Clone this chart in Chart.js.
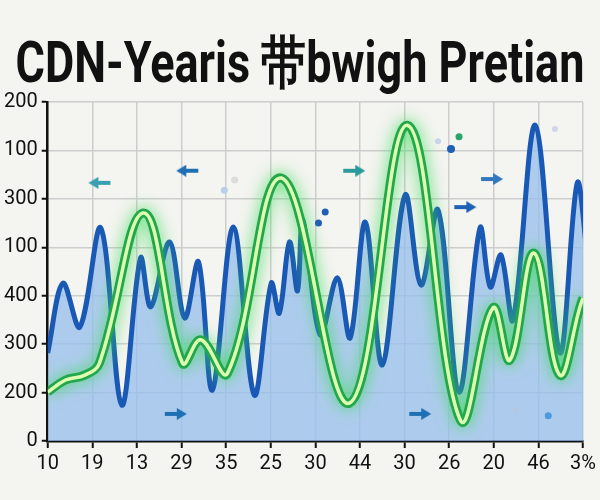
<!DOCTYPE html>
<html>
<head>
<meta charset="utf-8">
<script src="https://cdn.jsdelivr.net/npm/chart.js@4"></script>
<style>
  html, body { margin: 0; padding: 0; background: #f4f4f0; }
  #wrap { position: relative; width: 600px; height: 500px; }
  #titulo {
    position: absolute; left: 0; top: 25px; width: 600px; text-align: center;
    font-family: Roboto, sans-serif; font-weight: 700; font-size: 45px; color: #111;
    transform: scaleY(1.26); transform-origin: center top; white-space: nowrap; margin: 0;
  }
  canvas { position: absolute; left: 0; top: 0; }
</style>
</head>
<body>
<div id="wrap">
  <h1 id="titulo">CDN-Yearis 带bwigh Pretian</h1>
  <canvas id="grafico" width="600" height="500"></canvas>
</div>
<script>
const etiquetasX = ['10', '19', '13', '29', '35', '25', '30', '44', '30', '26', '20', '46', '3%'];
const etiquetasY = ['0', '200', '300', '400', '100', '300', '100', '200'];

// linea azul (x en posiciones de categoria, y en unidades de la rejilla)
const azulX = [0, 0.34, 0.72, 1.19, 1.66, 2.08, 2.31, 2.73, 3.07, 3.38, 3.69, 4.16, 4.63, 5.01, 5.19, 5.42, 5.6, 5.72, 6.11, 6.49, 6.78, 7.12, 7.5, 8.01, 8.37, 8.75, 9.22, 9.69, 9.92, 10.16, 10.43, 10.93, 11.48, 11.87, 12.1];
const azulY = [1.82, 3.26, 2.35, 4.40, 0.74, 3.78, 2.77, 4.11, 2.54, 3.70, 1.05, 4.42, 0.95, 3.26, 2.64, 4.11, 3.1, 4.56, 2.19, 3.37, 2.13, 4.52, 1.57, 5.08, 3.22, 4.77, 1.01, 4.40, 3.18, 3.84, 2.50, 6.52, 1.82, 5.33, 3.8];

// linea verde
const verdeX = [0, 0.4, 0.83, 1.16, 2.15, 3.02, 3.43, 4.03, 5.24, 6.76, 8.06, 9.25, 9.98, 10.36, 10.9, 11.48, 12.0, 12.12];
const verdeY = [1.01, 1.26, 1.36, 1.61, 4.71, 1.61, 2.09, 1.40, 5.43, 0.78, 6.52, 0.43, 2.75, 1.67, 3.88, 1.36, 2.95, 2.6];

// flechas y puntos sueltos
const flechasX = [1.16, 3.13, 6.87, 2.87, 9.36, 9.96, 8.35];
const flechasY = [5.33, 5.58, 5.58, 0.56, 4.83, 5.41, 0.56];
const flechasDir = ['izq', 'izq', 'der', 'der', 'der', 'der', 'der'];
const flechasColor = ['#3a9fb0', '#1f6fb5', '#2a9a9a', '#1f6fb5', '#1f62b5', '#3478c0', '#1f6fb5'];

const puntosX = [6.07, 6.22, 9.04, 9.22, 8.75, 3.96, 4.19, 11.37, 11.22, 10.5];
const puntosY = [4.50, 4.73, 6.03, 6.28, 6.19, 5.18, 5.39, 6.44, 0.52, 0.64];
const puntosColor = ['#1f5fb5', '#1f5fb5', '#1f5fb5', '#2aa56a', '#c8d4e8', '#b8cfe6', '#dcdcdc', '#d0d4e8', '#4d9ae0', '#b8c8dc'];
const puntosRadio = [3.5, 3.5, 4, 3.5, 3, 3.5, 3.5, 3, 3.5, 2.5];

function pares(xs, ys) {
    return xs.map((x, i) => ({ x: x, y: ys[i] }));
}

function crearFlecha(color) {
    const c = document.createElement('canvas');
    c.width = 24; c.height = 12;
    const g = c.getContext('2d');
    g.fillStyle = color;
    g.fillRect(1, 4, 14, 4);
    g.beginPath();
    g.moveTo(13, 0); g.lineTo(23, 6); g.lineTo(13, 12); g.closePath();
    g.fill();
    return c;
}

const brillo = {
    id: 'brillo',
    beforeDatasetDraw(chart, args) {
        const ds = chart.data.datasets[args.index];
        if (ds.brillo) {
            chart.ctx.save();
            chart.ctx.shadowColor = ds.brillo;
            chart.ctx.shadowBlur = 16;
        }
    },
    afterDatasetDraw(chart, args) {
        const ds = chart.data.datasets[args.index];
        if (ds.brillo) chart.ctx.restore();
    }
};

const ctx = document.getElementById('grafico').getContext('2d');
const grafico = new Chart(ctx, {
    type: 'line',
    data: {
        datasets: [
            {
                label: 'flechas',
                data: pares(flechasX, flechasY),
                showLine: false,
                pointStyle: flechasColor.map(crearFlecha),
                pointRotation: flechasDir.map(d => d === 'izq' ? 180 : 0),
                order: -1
            },
            {
                label: 'puntos',
                data: pares(puntosX, puntosY),
                showLine: false,
                pointRadius: puntosRadio,
                pointBackgroundColor: puntosColor,
                pointBorderWidth: 0,
                order: -1
            },
            {
                label: 'verde claro',
                data: pares(verdeX, verdeY),
                borderColor: '#dcffb2',
                borderWidth: 3.5,
                tension: 0.4,
                pointRadius: 0,
                fill: false,
                order: 0
            },
            {
                label: 'verde',
                data: pares(verdeX, verdeY),
                borderColor: '#22a84a',
                borderWidth: 9,
                tension: 0.4,
                pointRadius: 0,
                fill: false,
                brillo: 'rgba(60, 220, 90, 0.9)',
                order: 1
            },
            {
                label: 'azul',
                data: pares(azulX, azulY),
                borderColor: '#1a58b5',
                borderWidth: 5,
                tension: 0.35,
                pointRadius: 0,
                fill: 'origin',
                backgroundColor: 'rgba(150, 190, 236, 0.75)',
                order: 2
            }
        ]
    },
    options: {
        responsive: false,
        animation: false,
        events: [],
        layout: { padding: { top: 102, right: 10, left: 0, bottom: 20 } },
        plugins: {
            legend: { display: false },
            tooltip: { enabled: false },
            title: { display: false }
        },
        scales: {
            x: {
                type: 'linear',
                min: 0,
                max: 12,
                ticks: {
                    stepSize: 1,
                    color: '#111',
                    font: { family: 'Roboto', size: 20 },
                    maxRotation: 0,
                    padding: 4,
                    callback: (v) => etiquetasX[v]
                },
                grid: { color: '#cdcdcd', lineWidth: 1.5, tickColor: '#111', tickLength: 7, tickWidth: 2 },
                border: { color: '#111', width: 2.5 }
            },
            y: {
                min: 0,
                max: 7,
                ticks: {
                    stepSize: 1,
                    color: '#111',
                    font: { family: 'Roboto', size: 20 },
                    padding: 4,
                    callback: (v) => etiquetasY[v]
                },
                grid: { color: '#cdcdcd', lineWidth: 1.5, tickColor: '#111', tickLength: 6, tickWidth: 2 },
                border: { color: '#111', width: 2.5 }
            }
        }
    },
    plugins: [brillo]
});
</script>
</body>
</html>
